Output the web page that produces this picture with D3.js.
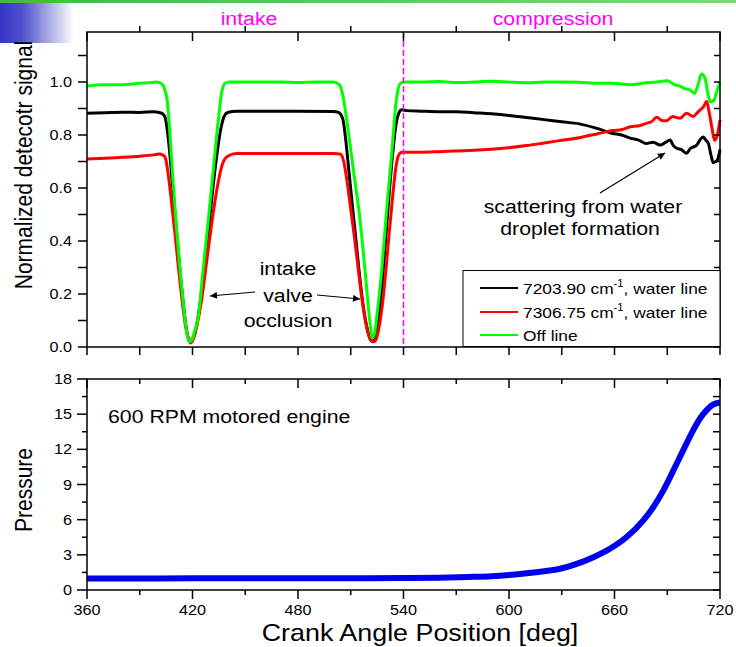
<!DOCTYPE html>
<html><head><meta charset="utf-8">
<script src="https://cdn.jsdelivr.net/npm/d3@7"></script>
<style>body{margin:0;background:#fff}svg{display:block}text{font-family:"Liberation Sans",Arial,sans-serif;fill:#000}</style>
</head><body><div id="chart"></div>
<script>
// ---------- data ----------
const offAngle = [360,370,380,390,395,400,402,403.5,404.5,405.5,407,409,411,413,415,416.7,418.2,419.5,421,423.3,426,429,431.8,434.7,436.6,438.5,441,450,460,470,480,490,500,503.5,505.5,507.7,511.5,515.3,518.1,521,522.3,523.5,524.8,527.6,530.4,533.3,535.7,538,540,550,560,570,580,590,600,610,620,630,640,650,659,669,678,684,690,694,697,700,703,705.5,707.5,709.5,711.5,713,714.5,716.5,718,720];
const offSignal = [0.985,0.99,0.99,0.995,0.997,1.0,0.995,0.985,0.965,0.935,0.82,0.62,0.44,0.285,0.15,0.055,0.02,0.025,0.055,0.115,0.29,0.48,0.668,0.857,0.96,0.995,1.0,1.0,1.0,1.0,0.998,1.0,1.0,0.99,0.95,0.857,0.668,0.479,0.29,0.09,0.035,0.05,0.114,0.29,0.517,0.73,0.92,0.993,1.0,1.0,1.002,0.998,1.0,1.003,1.0,0.997,1.0,1.0,0.999,0.995,0.995,0.99,0.997,1.0,1.005,0.99,0.985,0.975,0.97,0.957,0.99,1.03,1.015,0.96,0.925,0.93,0.96,1.0];

const line1Angle = [360,370,380,390,398,401,403,404.5,406,407.5,409,411,413,415,417,418.5,420,422,424,427,430,433,436,438,440,445,460,480,500,503,505.5,507,509,511,513,515,517,519,521,522.5,524,526,528,530,532,534,536,537.5,539,542,550,560,570,580,590,600,610,620,630,640,650,659,664,669,674,678,682,686,689,691.6,693.5,695.4,698,701,703,706.8,709,710.5,712,713.4,715,716.2,718.5,720];
const line1Signal = [0.882,0.884,0.886,0.885,0.888,0.885,0.88,0.865,0.80,0.70,0.58,0.43,0.28,0.15,0.05,0.02,0.03,0.07,0.15,0.31,0.50,0.68,0.82,0.87,0.885,0.89,0.89,0.89,0.889,0.885,0.86,0.79,0.66,0.53,0.40,0.27,0.16,0.08,0.03,0.02,0.04,0.12,0.25,0.42,0.59,0.74,0.85,0.885,0.895,0.892,0.89,0.888,0.888,0.884,0.88,0.874,0.866,0.858,0.85,0.842,0.825,0.806,0.80,0.788,0.78,0.768,0.773,0.762,0.772,0.781,0.76,0.75,0.745,0.731,0.748,0.762,0.785,0.792,0.78,0.768,0.72,0.695,0.705,0.745];

const line2Angle = [360,370,380,390,398,401,403,404.5,406,408,410,412,414,416,417.5,419,420.5,422.5,425,428,431,434,437,440,445,460,480,500,504,506,508,510,512,514,516,518,520,521.5,523.4,525,526.5,528,530,532,534,535.5,537,539,542,550,560,570,580,590,600,610,620,630,640,650,659,664,669,674,678,681,684,687,689.7,693,697.3,701,704.9,706.5,708.6,710.5,712.4,714,715.3,716.9,718.5,720];
const line2Signal = [0.709,0.712,0.716,0.72,0.725,0.728,0.725,0.715,0.66,0.55,0.43,0.30,0.18,0.08,0.035,0.015,0.03,0.08,0.17,0.32,0.47,0.60,0.69,0.72,0.73,0.73,0.73,0.73,0.728,0.70,0.62,0.52,0.42,0.31,0.20,0.11,0.05,0.025,0.02,0.04,0.09,0.16,0.29,0.44,0.58,0.67,0.72,0.735,0.735,0.735,0.737,0.74,0.742,0.746,0.752,0.76,0.77,0.78,0.79,0.804,0.817,0.82,0.831,0.835,0.844,0.85,0.867,0.855,0.854,0.87,0.863,0.882,0.87,0.88,0.894,0.905,0.926,0.88,0.831,0.78,0.80,0.857];

const pressAngle = [360,380,400,420,440,460,480,500,520,540,560,580,590,600,610,620,629,638.5,648,657.4,666.9,676.4,682.1,687.8,693.5,699.1,704.8,708.6,712.4,716.2,720];
const pressure = [0.98,0.99,0.99,1.0,1.0,1.0,1.0,1.0,1.0,1.02,1.05,1.12,1.18,1.28,1.42,1.6,1.81,2.23,2.8,3.52,4.52,5.94,7.08,8.5,10.2,11.93,13.64,14.63,15.35,15.83,16.0];

const xMajor = [360,420,480,540,600,660,720];
const xMinor = [390,450,510,570,630,690];
const sigMajor = [0.0,0.2,0.4,0.6,0.8,1.0];
const sigMinor = [0.1,0.3,0.5,0.7,0.9,1.1];
const presMajor = [0,3,6,9,12,15,18];
const presMinor = [1.5,4.5,7.5,10.5,13.5,16.5];
const seriesNames = ["7203.90 cm", "7306.75 cm", "Off line"];
const seriesColors = ["#000000", "#ff0000", "#00ff00"];

// ---------- layout ----------
const W = 736, H = 647, SX = 1.12;
const svg = d3.select("#chart").append("svg").attr("width", W).attr("height", H);
const defs = svg.append("defs");

const x = d3.scaleLinear().domain([360, 720]).range([87, 720]);
const ySig = d3.scaleLinear().domain([0, 1.1887]).range([347, 32]);
const yPres = d3.scaleLinear().domain([0, 18]).range([590, 379]);

// decoration
const gg = defs.append("linearGradient").attr("id", "gbar");
gg.append("stop").attr("offset", 0).attr("stop-color", "#3dbd3d");
gg.append("stop").attr("offset", 1).attr("stop-color", "#74de74");
const bg = defs.append("linearGradient").attr("id", "bfade");
bg.append("stop").attr("offset", 0).attr("stop-color", "#3434c6");
bg.append("stop").attr("offset", 0.3).attr("stop-color", "#5050cc");
bg.append("stop").attr("offset", 1).attr("stop-color", "#ffffff");
svg.append("rect").attr("x", 0).attr("y", 3).attr("width", 74).attr("height", 40).attr("fill", "url(#bfade)");
svg.append("rect").attr("x", 0).attr("y", 0).attr("width", W).attr("height", 3).attr("fill", "url(#gbar)");

// arrow marker
defs.append("marker").attr("id", "arr").attr("viewBox", "0 0 10 10").attr("refX", 10).attr("refY", 5)
  .attr("markerWidth", 11).attr("markerHeight", 7).attr("markerUnits", "userSpaceOnUse").attr("orient", "auto")
  .append("path").attr("d", "M0,0 L10,5 L0,10 Z").attr("fill", "#000");

function stext(px, py, str, size, anchor, color, rotate) {
  const t = svg.append("text")
    .attr("transform", `translate(${px},${py}) scale(${SX},1)` + (rotate ? " rotate(-90)" : ""))
    .attr("text-anchor", anchor || "start").attr("font-size", size).text(str);
  if (color) t.style("fill", color);
  return t;
}

// curves
const lineGen = (ys) => d3.line().x(d => x(d[0])).y(d => ys(d[1])).curve(d3.curveMonotoneX);
const zip = (a, b) => a.map((v, i) => [v, b[i]]);
const topSeries = [zip(line1Angle, line1Signal), zip(line2Angle, line2Signal), zip(offAngle, offSignal)];
topSeries.forEach((s, i) => {
  svg.append("path").attr("d", lineGen(ySig)(s)).attr("fill", "none")
    .attr("stroke", seriesColors[i]).attr("stroke-width", 3).attr("stroke-linejoin", "round");
});
svg.append("path").attr("d", lineGen(yPres)(zip(pressAngle, pressure))).attr("fill", "none")
  .attr("stroke", "#0000ee").attr("stroke-width", 6).attr("stroke-linejoin", "round");

// dashed separator
svg.append("line").attr("x1", x(540)).attr("x2", x(540)).attr("y1", ySig.range()[1]).attr("y2", ySig.range()[0])
  .attr("stroke", "#ff00ff").attr("stroke-width", 1.5).attr("stroke-dasharray", "6,3");

// frames
function frame(ys) {
  const [b, t] = ys.range();
  svg.append("rect").attr("x", x.range()[0]).attr("y", t).attr("width", x.range()[1] - x.range()[0])
    .attr("height", b - t).attr("fill", "none").attr("stroke", "#000").attr("stroke-width", 1.5);
}
frame(ySig); frame(yPres);

const tk = svg.append("g").attr("stroke", "#000").attr("stroke-width", 1.5);
function vt(vals, yy, a, b) { vals.forEach(v => tk.append("line").attr("x1", x(v)).attr("x2", x(v)).attr("y1", yy + a).attr("y2", yy + b)); }
function ht(ys, vals, xx, a, b) { vals.forEach(v => tk.append("line").attr("y1", ys(v)).attr("y2", ys(v)).attr("x1", xx + a).attr("x2", xx + b)); }
const L = x.range()[0], R = x.range()[1];
// top panel
vt(xMajor.concat(xMinor), 347, 0, 8);
vt(xMajor, 32, 0, 9); vt(xMinor, 32, -6, 0);
ht(ySig, sigMajor.concat(sigMinor), L, -9, 0);
ht(ySig, sigMajor.concat(sigMinor), R, -6, 0);
// bottom panel
vt(xMajor, 379, 0, 9); vt(xMinor, 379, 0, 5);
vt(xMajor, 590, 0, 9); vt(xMinor, 590, 0, 5);
ht(yPres, presMajor, L, -10, 0); ht(yPres, presMinor, L, -5, 0);
ht(yPres, presMajor.concat(presMinor), R, -7, 0);

// tick labels
sigMajor.forEach(v => stext(72, ySig(v) + 5, v.toFixed(1), 14.5, "end"));
presMajor.forEach(v => stext(72, yPres(v) + 5, String(v), 14.5, "end"));
xMajor.forEach(v => stext(x(v), 615, String(v), 14.5, "middle"));

// axis titles
stext(420, 641, "Crank Angle Position [deg]", 24, "middle");
stext(32, 165, "Normalized detecotr signal", 21, "middle", null, true);
stext(32, 490, "Pressure", 21, "middle", null, true);

// phase titles
stext(249, 25, "intake", 19, "middle", "#ff00ff");
stext(553, 25, "compression", 19, "middle", "#ff00ff");

// annotations
stext(288, 275, "intake", 19, "middle");
stext(288, 301.5, "valve", 19, "middle");
stext(288, 327, "occlusion", 19, "middle");
const ann = svg.append("g").attr("stroke", "#000").attr("stroke-width", 1.2);
ann.append("line").attr("x1", 255).attr("y1", 292).attr("x2", 210).attr("y2", 296).attr("marker-end", "url(#arr)");
ann.append("line").attr("x1", 317).attr("y1", 295).attr("x2", 360).attr("y2", 299).attr("marker-end", "url(#arr)");
ann.append("line").attr("x1", 600).attr("y1", 193).attr("x2", 665).attr("y2", 153).attr("marker-end", "url(#arr)");
stext(583, 213, "scattering from water", 19, "middle");
stext(580, 235, "droplet formation", 19, "middle");
stext(108, 423, "600 RPM motored engine", 19, "start");

// legend
const lg = svg.append("g");
lg.append("rect").attr("x", 463).attr("y", 270.5).attr("width", 257).attr("height", 76)
  .attr("fill", "#fff").attr("stroke", "#000").attr("stroke-width", 1);
const rowsY = [288, 312, 335];
seriesNames.forEach((n, i) => {
  lg.append("line").attr("x1", 480).attr("x2", 518).attr("y1", rowsY[i]).attr("y2", rowsY[i])
    .attr("stroke", seriesColors[i]).attr("stroke-width", 2);
  const t = svg.append("text").attr("transform", `translate(523,${rowsY[i] + 6}) scale(${SX},1)`).attr("font-size", 15.5);
  t.append("tspan").text(n);
  if (i < 2) {
    t.append("tspan").attr("font-size", 10).attr("dy", -7).text("-1");
    t.append("tspan").attr("dy", 7).text(", water line");
  }
});
</script></body></html>
